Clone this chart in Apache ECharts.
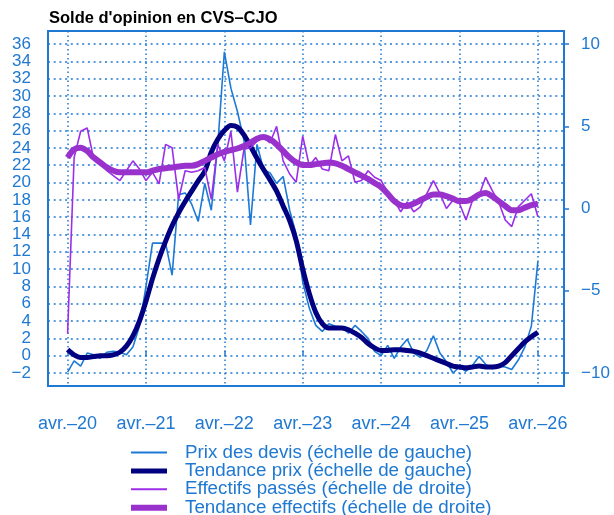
<!DOCTYPE html>
<html>
<head>
<meta charset="utf-8">
<script src="https://cdn.jsdelivr.net/npm/echarts@6/dist/echarts.min.js"></script>
<style>
  html, body { margin: 0; padding: 0; background: #fff; }
  #chart { width: 614px; height: 515px; }
</style>
</head>
<body>
<div id="chart"></div>
<script>
// one value per month, avr.-20 -> avr.-26 (index = months since avr.-20)
const prixDevis = [
  -1.9, -0.6, -1.2, 0.3, 0.1, -0.3, 0.4, 0.5, 0.4, 0.1,
  1.0, 3.4, 8.0, 13.0, 13.0, 13.0, 9.3, 18.6, 18.8, 17.5,
  15.5, 19.9, 16.8, 24.4, 35.1, 30.9, 28.2, 24.9, 15.1, 24.4,
  21.5, 21.1, 19.9, 20.7, 16.8, 14.0, 8.5, 5.5, 3.5, 2.8,
  3.7, 3.4, 3.3, 2.6, 3.5, 2.8, 2.0, 0.5, 0.0, 1.2,
  -0.3, 1.0, 1.9, 0.3, -0.2, 0.6, 2.3, 0.3, -0.7, -2.0,
  -1.3, -1.8, -1.1, -0.1, -1.0, -1.5, -1.2, -1.3, -1.6, -0.5,
  1.0, 3.4, 10.9
];
const tendancePrix = [
  0.7, 0.1, -0.2, -0.2, -0.1, 0.0, 0.0, 0.1, 0.4, 1.1,
  2.3, 4.0, 6.3, 8.9, 11.2, 13.2, 15.0, 16.5, 17.8, 19.0,
  20.2, 21.3, 23.5, 25.0, 26.0, 26.6, 26.4, 25.5, 24.2, 22.8,
  21.5, 20.3, 19.0, 17.3, 15.6, 13.3, 10.0, 7.2, 5.0, 3.7,
  3.2, 3.2, 3.2, 3.0, 2.6, 2.1, 1.4, 0.9, 0.6, 0.6,
  0.7, 0.7, 0.6, 0.5, 0.3, 0.0, -0.3, -0.6, -0.9, -1.2,
  -1.3, -1.4, -1.3, -1.2, -1.3, -1.3, -1.2, -0.8, 0.0, 0.8,
  1.6, 2.2, 2.7
];
const effectifsPasses = [
  -7.6, 3.1, 4.7, 4.9, 3.0, 2.8, 2.3, 2.0, 1.7, 2.3,
  2.9, 2.4, 1.7, 2.2, 1.5, 3.9, 3.7, 0.55, 2.3, 2.2,
  2.3, 2.5, 0.55, 3.9, 2.9, 4.7, 1.0, 3.6, 3.7, 4.1,
  4.3, 4.0, 5.0, 2.9, 2.1, 1.6, 4.4, 2.6, 3.1, 2.4,
  2.3, 4.5, 2.9, 3.2, 1.6, 1.7, 2.3, 1.9, 1.7, 1.0,
  0.5, -0.2, 0.4, -0.2, 0.1, 0.9, 1.7, 0.9, 0.0, 0.5,
  0.3, -0.7, 0.5, 0.8, 1.9, 1.1, 0.4, -0.7, -1.1, 0.1,
  0.5, 0.9, -0.5
];
const tendanceEffectifs = [
  3.1, 3.6, 3.7, 3.5, 3.1, 2.8, 2.5, 2.3, 2.2, 2.2,
  2.2, 2.2, 2.2, 2.3, 2.4, 2.45, 2.5, 2.55, 2.6, 2.6,
  2.7, 2.9, 3.1, 3.3, 3.45, 3.55, 3.65, 3.8, 4.0, 4.25,
  4.35, 4.2, 3.9, 3.5, 3.1, 2.8, 2.65, 2.65, 2.7, 2.75,
  2.8, 2.75, 2.6, 2.4, 2.2, 2.0, 1.8, 1.55, 1.3, 0.9,
  0.45, 0.2, 0.15, 0.3, 0.5, 0.7, 0.85, 0.85, 0.75, 0.6,
  0.45, 0.45, 0.6, 0.85, 0.95, 0.75, 0.45, 0.15, -0.1, -0.1,
  0.05, 0.2, 0.3
];

const xTickMonths = [0, 12, 24, 36, 48, 60, 72];
const xTickLabels = ['avr.–20', 'avr.–21', 'avr.–22', 'avr.–23', 'avr.–24', 'avr.–25', 'avr.–26'];
const leftTicks = [-2, 0, 2, 4, 6, 8, 10, 12, 14, 16, 18, 20, 22, 24, 26, 28, 30, 32, 34, 36];
const rightTicks = [-10, -5, 0, 5, 10];

const seriesNames = [
  'Prix des devis (échelle de gauche)',
  'Tendance prix (échelle de gauche)',
  'Effectifs passés (échelle de droite)',
  'Tendance effectifs (échelle de droite)'
];

const BLUE = '#1f78d1';
const FONT = '"Liberation Sans", Arial, sans-serif';

function toPoints(arr) {
  return arr.map((v, i) => [i, v]);
}
// minus sign like the original
function minus(v) {
  return v < 0 ? '−' + Math.abs(v) : String(v);
}

const dotted = { color: BLUE, width: 1.5, type: [2, 3.7] };
const noSymbol = { opacity: 0 };

const chart = echarts.init(document.getElementById('chart'));
chart.setOption({
  animation: false,
  textStyle: { fontFamily: FONT },
  title: {
    text: "Solde d'opinion en CVS–CJO",
    left: 49,
    top: 10,
    padding: 0,
    textStyle: { fontSize: 16.5, fontWeight: 'bold', color: '#000', fontFamily: FONT }
  },
  grid: {
    left: 48, right: 50, top: 31, bottom: 129,
    show: true, borderColor: BLUE, borderWidth: 2
  },
  legend: {
    orient: 'vertical',
    left: 128,
    top: 443,
    height: 120,
    padding: 0,
    itemWidth: 36,
    itemHeight: 14,
    itemGap: -0.6,
    textStyle: { color: BLUE, fontSize: 18.8, lineHeight: 16.6, fontFamily: FONT, padding: [0, 0, 0, 13] },
    data: [
      { name: seriesNames[0], lineStyle: { width: 2 }, itemStyle: noSymbol },
      { name: seriesNames[1], lineStyle: { width: 5 }, itemStyle: noSymbol },
      { name: seriesNames[2], lineStyle: { width: 2 }, itemStyle: noSymbol },
      { name: seriesNames[3], lineStyle: { width: 6 }, itemStyle: noSymbol }
    ]
  },
  xAxis: {
    type: 'value',
    min: -3,
    max: 76,
    axisLine: { show: false },
    axisTick: { show: true, inside: true, length: 5, customValues: xTickMonths, lineStyle: { color: BLUE, width: 1.5 } },
    axisLabel: {
      customValues: xTickMonths,
      margin: 29,
      color: BLUE,
      fontSize: 18,
      fontFamily: FONT,
      formatter: v => xTickLabels[xTickMonths.indexOf(v)]
    },
    splitLine: { show: true, lineStyle: { color: BLUE, width: 1.5, type: [1.5, 3] } }
  },
  yAxis: [
    {
      type: 'value',
      min: -3.5,
      max: 37.5,
      axisLine: { show: false },
      axisTick: { show: false, customValues: leftTicks },
      axisLabel: { customValues: leftTicks, margin: 17, color: BLUE, fontSize: 17, fontFamily: FONT, formatter: minus },
      splitLine: { show: true, lineStyle: dotted }
    },
    {
      type: 'value',
      position: 'right',
      min: -10.8,
      max: 10.8,
      axisLine: { show: false },
      axisTick: { show: true, length: 5, customValues: rightTicks, lineStyle: { color: BLUE, width: 1.5 } },
      axisLabel: { customValues: rightTicks, margin: 17, color: BLUE, fontSize: 17, fontFamily: FONT, formatter: minus },
      splitLine: { show: false }
    }
  ],
  series: [
    {
      name: seriesNames[0], type: 'line', yAxisIndex: 0, symbol: 'none',
      data: toPoints(prixDevis),
      lineStyle: { color: '#1c7ad6', width: 1.6 }, itemStyle: { color: '#1c7ad6' }
    },
    {
      name: seriesNames[1], type: 'line', yAxisIndex: 0, symbol: 'none', smooth: 0.3,
      data: toPoints(tendancePrix),
      lineStyle: { color: '#000080', width: 5 }, itemStyle: { color: '#000080' }
    },
    {
      name: seriesNames[2], type: 'line', yAxisIndex: 1, symbol: 'none',
      data: toPoints(effectifsPasses),
      lineStyle: { color: '#9b2ee8', width: 1.6 }, itemStyle: { color: '#9b2ee8' }
    },
    {
      name: seriesNames[3], type: 'line', yAxisIndex: 1, symbol: 'none', smooth: 0.3,
      data: toPoints(tendanceEffectifs),
      lineStyle: { color: '#9932cc', width: 6 }, itemStyle: { color: '#9932cc' }
    }
  ]
});
</script>
</body>
</html>
